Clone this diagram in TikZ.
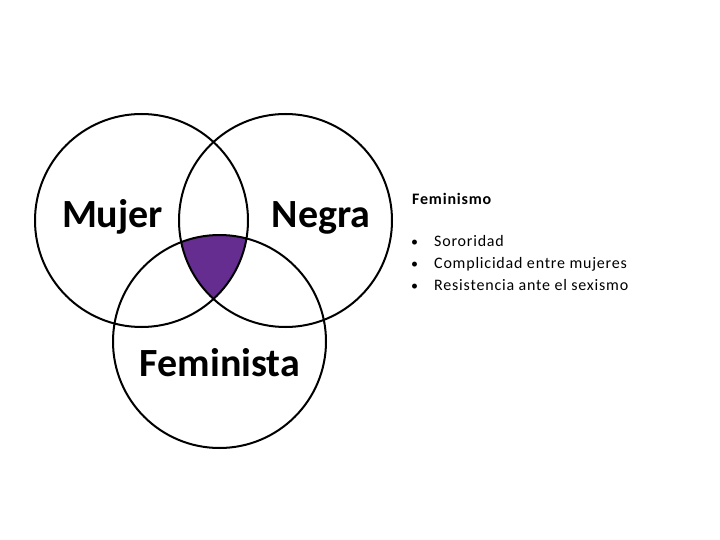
\documentclass[tikz,border=0pt]{standalone}
\usepackage{fontspec}
\setmainfont{Carlito}
\newfontfamily\listefont[LetterSpace=5]{Carlito}
\definecolor{violeta}{RGB}{102,45,145}
\begin{document}
\begin{tikzpicture}[x=1pt, y=-1pt, line join=round]
	\useasboundingbox (0,0) rectangle (720,540);
	% Centres des trois cercles (rayon 106.5)
	\coordinate (M) at (141.5,220.5);
	\coordinate (N) at (285.5,220.5);
	\coordinate (F) at (219.5,341.5);

	% Zone commune aux trois cercles
	\begin{scope}
		\clip (M) circle[radius=106.5pt];
		\clip (N) circle[radius=106.5pt];
		\fill[violeta] (F) circle[radius=106.5pt];
	\end{scope}

	% Tracé des cercles
	\draw[line width=2pt] (M) circle[radius=106.5pt];
	\draw[line width=2pt] (N) circle[radius=106.5pt];
	\draw[line width=2pt] (F) circle[radius=106.5pt];

	% Étiquettes des cercles
	\node[anchor=base, inner sep=0pt, font=\bfseries\fontsize{40}{40}\selectfont] (mujer) at (112.5,227) {Mujer};
	\node[anchor=base, inner sep=0pt, font=\bfseries\fontsize{40}{40}\selectfont] (negra) at (321,227) {Negra};
	\node[anchor=base, inner sep=0pt, font=\bfseries\fontsize{40}{40}\selectfont] (feminista) at (220,376.5) {Feminista};

	% Texte à droite
	\node[anchor=base west, inner sep=0pt, font=\listefont\bfseries\fontsize{16}{19}\selectfont] (titre) at (412,205) {Feminismo};
	\node[anchor=base west, inner sep=0pt, font=\listefont\fontsize{14}{19}\selectfont] (puce1) at (411,246.5) {•};
	\node[anchor=base west, inner sep=0pt, font=\listefont\fontsize{16}{19}\selectfont] (item1) at (434,246.5) {Sororidad};
	\node[anchor=base west, inner sep=0pt, font=\listefont\fontsize{14}{19}\selectfont] (puce2) at (411,268.5) {•};
	\node[anchor=base west, inner sep=0pt, font=\listefont\fontsize{16}{19}\selectfont] (item2) at (434,268.5) {Complicidad entre mujeres};
	\node[anchor=base west, inner sep=0pt, font=\listefont\fontsize{14}{19}\selectfont] (puce3) at (411,290.5) {•};
	\node[anchor=base west, inner sep=0pt, font=\listefont\fontsize{16}{19}\selectfont] (item3) at (434,290.5) {Resistencia ante el sexismo};
\end{tikzpicture}
\end{document}
